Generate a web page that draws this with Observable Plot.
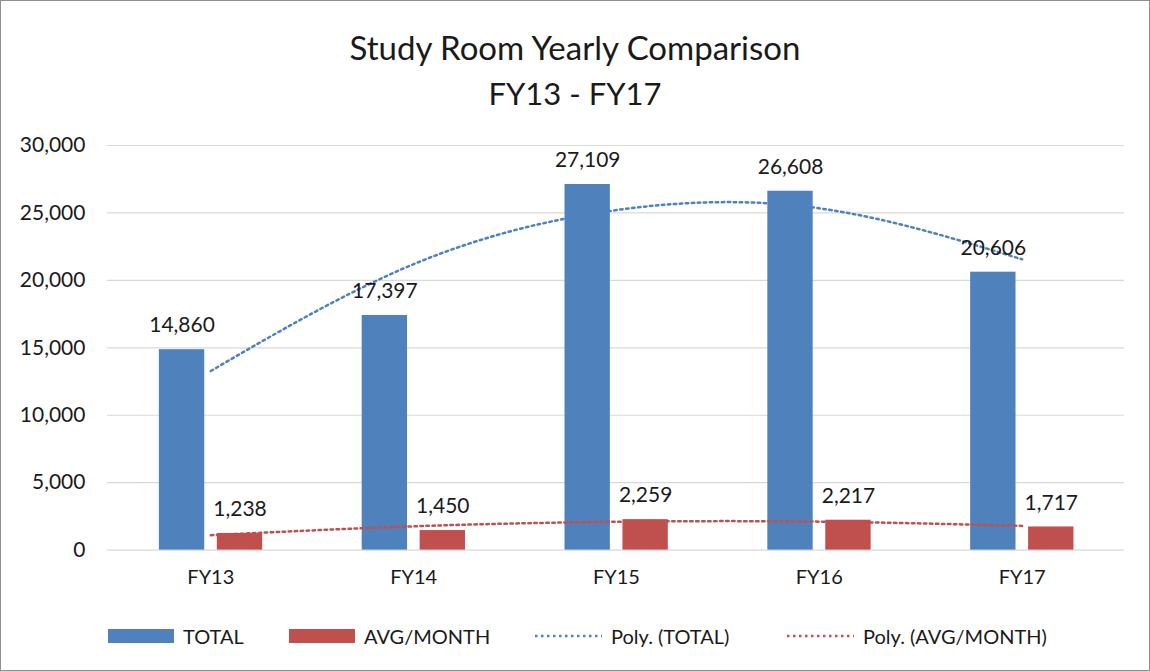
<!DOCTYPE html>
<html>
<head>
<meta charset="utf-8">
<script src="https://cdn.jsdelivr.net/npm/d3@7"></script>
<script src="https://cdn.jsdelivr.net/npm/@observablehq/plot@0.6"></script>
<style>
  html, body { margin: 0; padding: 0; background: #fff; }
  #frame { position: relative; width: 1150px; height: 671px; box-sizing: border-box; border: 1px solid #8f8f8f; overflow: hidden; font-family: Lato, "Open Sans", sans-serif; color: #1a1a1a; }
  .title { position: absolute; left: 0; width: 100%; text-align: center; line-height: 1; }
  #chart { position: absolute; left: -1px; top: 119px; }
  .lg { position: absolute; top: 621px; height: 28px; display: flex; align-items: center; font-size: 20px; white-space: nowrap; }
  .sw { display: inline-block; width: 66px; height: 14px; margin-right: 9px; }
</style>
</head>
<body>
<div id="frame">
  <div class="title" style="top:30px; font-size:33px">Study Room Yearly Comparison</div>
  <div class="title" style="top:77px; font-size:31px">FY13 - FY17</div>
  <div id="chart"></div>
  <div class="lg" style="left:107px"><span class="sw" style="background:#4F81BD"></span>TOTAL</div>
  <div class="lg" style="left:288px"><span class="sw" style="background:#C0504D"></span>AVG/MONTH</div>
  <div class="lg" style="left:533px"><svg width="68" height="6" style="margin-right:9px"><line x1="1" y1="3" x2="68" y2="3" stroke="#4F81BD" stroke-width="2.5" stroke-dasharray="2.5,3.5"/></svg>Poly. (TOTAL)</div>
  <div class="lg" style="left:785px"><svg width="68" height="6" style="margin-right:9px"><line x1="1" y1="3" x2="68" y2="3" stroke="#C0504D" stroke-width="2.5" stroke-dasharray="2.5,3.5"/></svg>Poly. (AVG/MONTH)</div>
</div>
<script>
const categories = ["FY13", "FY14", "FY15", "FY16", "FY17"];
const totals = [14860, 17397, 27109, 26608, 20606];
const avgPerMonth = [1238, 1450, 2259, 2217, 1717];
const polyTotal = [13280, 21200, 25210, 25340, 21560];
const polyAvg = [1106, 1766, 2101, 2111, 1796];
const yTicks = [0, 5000, 10000, 15000, 20000, 25000, 30000];

const rows = categories.map((c, i) => ({
  cat: c, total: totals[i], avg: avgPerMonth[i], pTotal: polyTotal[i], pAvg: polyAvg[i]
}));
const fmt = d3.format(",");
const blue = "#4F81BD", red = "#C0504D";

const chart = Plot.plot({
  width: 1150,
  height: 475,
  marginLeft: 107,
  marginRight: 25,
  marginTop: 25,
  marginBottom: 45,
  style: { fontFamily: "Lato, 'Open Sans', sans-serif", fontSize: "20px", color: "#1a1a1a", background: "transparent" },
  x: { domain: categories, padding: 0, label: null },
  y: { domain: [0, 30000], label: null },
  marks: [
    Plot.gridY(yTicks, { stroke: "#d9d9d9", strokeOpacity: 1, strokeWidth: 1.2 }),
    Plot.axisY(yTicks, { tickSize: 0, tickPadding: 22, tickFormat: fmt, fontSize: 21 }),
    Plot.axisX({ tickSize: 0, tickPadding: 20, fontSize: 20 }),
    Plot.barY(rows, { x: "cat", y: "total", fill: blue, insetLeft: 50, insetRight: 107.6 }),
    Plot.barY(rows, { x: "cat", y: "avg", fill: red, insetLeft: 108, insetRight: 49.6 }),
    Plot.line(rows, { x: "cat", y: "pTotal", stroke: blue, strokeWidth: 2.5, strokeDasharray: "2.5,3.5", curve: "natural" }),
    Plot.line(rows, { x: "cat", y: "pAvg", stroke: red, strokeWidth: 2.5, strokeDasharray: "2.5,3.5", curve: "natural" }),
    Plot.text(rows, { x: "cat", y: "total", text: d => fmt(d.total), dx: -28.8, dy: -24, fontSize: 21, fill: "#1a1a1a" }),
    Plot.text(rows, { x: "cat", y: "avg", text: d => fmt(d.avg), dx: 29.2, dy: -24, fontSize: 21, fill: "#1a1a1a" })
  ]
});
document.getElementById("chart").appendChild(chart);
</script>
</body>
</html>
